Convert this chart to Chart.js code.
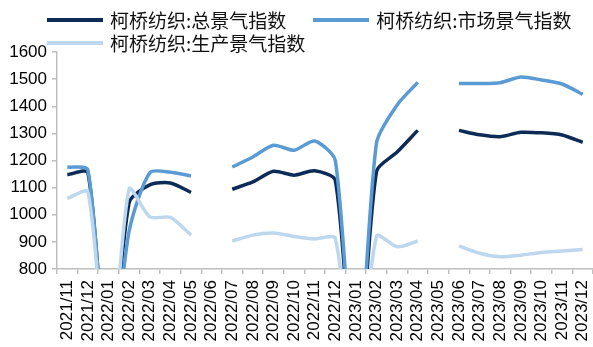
<!DOCTYPE html>
<html>
<head>
<meta charset="utf-8">
<script src="https://cdn.jsdelivr.net/npm/chart.js@4.4.1/dist/chart.umd.min.js"></script>
<style>
    html, body { margin: 0; padding: 0; background: #fff; }
    #wrap { position: relative; width: 593px; height: 347px; }
    #legend {
        position: absolute; left: 47px; top: 8px; width: 546px;
        display: flex; flex-wrap: wrap; column-gap: 27px;
        font-family: "Noto Sans CJK SC", sans-serif; font-size: 19px; line-height: 23px; color: #111;
    }
    .item { display: flex; align-items: center; }
    .swatch { width: 56px; height: 4px; margin-right: 7px; }
</style>
</head>
<body>
<div id="wrap">
    <canvas id="chart" width="593" height="347"></canvas>
    <div id="legend"></div>
</div>
<script>
// months on the x axis
const months = [
    '2021/11', '2021/12',
    '2022/01', '2022/02', '2022/03', '2022/04', '2022/05', '2022/06',
    '2022/07', '2022/08', '2022/09', '2022/10', '2022/11', '2022/12',
    '2023/01', '2023/02', '2023/03', '2023/04', '2023/05', '2023/06',
    '2023/07', '2023/08', '2023/09', '2023/10', '2023/11', '2023/12'
];

// 柯桥纺织 index values (null = no data)
const totalIndex = [1148, 1155, 380, 1045, 1110, 1117, 1082, null, 1094, 1121, 1160, 1146, 1162, 1127,
    330, 1160, 1231, 1311, null, 1311, 1295, 1288, 1304, 1302, 1294, 1267];
const marketIndex = [1176, 1165, 380, 940, 1155, 1157, 1143, null, 1176, 1213, 1256, 1238, 1272, 1200,
    330, 1265, 1405, 1488, null, 1484, 1484, 1487, 1508, 1497, 1482, 1444];
const productionIndex = [1060, 1084, 380, 1095, 992, 990, 925, null, 903, 925, 933, 920, 911, 913,
    330, 921, 882, 903, null, 885, 858, 845, 851, 861, 866, 872];

const seriesNames = ['柯桥纺织:总景气指数', '柯桥纺织:市场景气指数', '柯桥纺织:生产景气指数'];
const seriesColors = ['#0c2c57', '#5b9bd5', '#bdd7ee'];

const yMin = 800;
const yMax = 1600;
const yStep = 100;

const axisColor = '#bfbfbf';
const tickFont = { family: '"Liberation Sans", Arial, sans-serif', size: 17 };

const datasets = [totalIndex, marketIndex, productionIndex].map((values, i) => ({
    label: seriesNames[i],
    data: values,
    borderColor: seriesColors[i],
    backgroundColor: seriesColors[i],
    borderWidth: 3.5,
    tension: 0.25,
    pointRadius: 0,
    spanGaps: false
}));

// light series underneath, navy on top
const drawOrder = [2, 1, 0];
datasets.forEach((ds, i) => { ds.order = drawOrder[i]; });

const chart = new Chart(document.getElementById('chart'), {
    type: 'line',
    data: { labels: months, datasets: datasets },
    options: {
        responsive: false,
        animation: false,
        devicePixelRatio: 1,
        layout: { padding: { top: 52, right: 0, left: 0, bottom: 0 } },
        plugins: {
            legend: { display: false },
            tooltip: { enabled: false }
        },
        scales: {
            x: {
                offset: true,
                grid: { display: true, offset: true, drawOnChartArea: false, drawTicks: true, tickLength: 5, color: axisColor, lineWidth: 1.5 },
                border: { display: true, color: axisColor, width: 1.5 },
                ticks: {
                    autoSkip: false, minRotation: 90, maxRotation: 90, padding: 6,
                    color: '#000', font: tickFont
                },
                afterFit: (scale) => {
                    scale.height = 78;
                    // let the plot run to the right edge like the original
                    scale.paddingLeft = 0;
                    scale.paddingRight = 0;
                }
            },
            y: {
                min: yMin,
                max: yMax,
                grid: { display: true, drawOnChartArea: false, drawTicks: true, tickLength: 5, color: axisColor, lineWidth: 1.5 },
                border: { display: true, color: axisColor, width: 1.5 },
                ticks: {
                    stepSize: yStep, padding: 5, color: '#000', font: tickFont,
                    callback: (value) => String(value)
                },
                afterFit: (scale) => { scale.width = 57; }
            }
        }
    }
});

// html legend built from the chart's datasets
const legendEl = document.getElementById('legend');
chart.data.datasets.forEach(ds => {
    const item = document.createElement('div');
    item.className = 'item';
    const swatch = document.createElement('span');
    swatch.className = 'swatch';
    swatch.style.background = ds.borderColor;
    const text = document.createElement('span');
    text.textContent = ds.label;
    item.appendChild(swatch);
    item.appendChild(text);
    legendEl.appendChild(item);
});
</script>
</body>
</html>
